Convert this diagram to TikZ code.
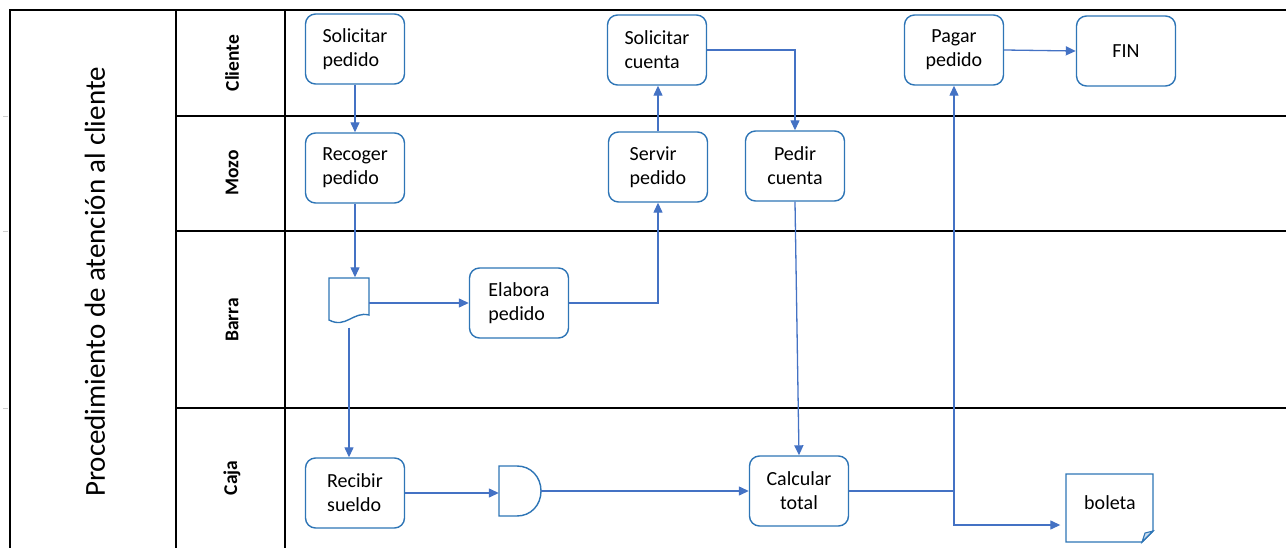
\documentclass[tikz,border=0pt]{standalone}
\usepackage{fontspec}
\setmainfont{Carlito}
\usetikzlibrary{arrows.meta}

\definecolor{boxblue}{HTML}{2E75B6}
\definecolor{flowblue}{HTML}{4472C4}

\begin{document}
\begin{tikzpicture}[x=1pt,y=-1pt,
    lane/.style={line width=2.6pt, black},
    lanename/.style={rotate=90, font=\fontsize{19.5}{22}\selectfont\bfseries},
    proc/.style={draw=boxblue, line width=1.4pt, rounded corners=10pt, fill=white,
        minimum width=99pt, minimum height=70pt, inner sep=0pt, align=left,
        font=\fontsize{20}{24}\selectfont},
    procc/.style={proc, align=center},
    symbox/.style={draw=boxblue, line width=1.4pt, fill=white},
    flow/.style={draw=flowblue, line width=1.3pt, ->},
    >={Triangle[length=10pt,width=9pt]}]
    \useasboundingbox (0,0) rectangle (1286,548);
    % Draw the swimlane grid
    \draw[lane] (10,550) -- (10,10) -- (1286,10);
    \draw[lane] (176,10) -- (176,550);
    \draw[lane] (285,10) -- (285,408);
    \draw[line width=1.4pt] (285,408) -- (285,550);
    \foreach \y in {116,231,408} {
        \draw[lane] (176,\y) -- (1286,\y);
        \draw[gray!40, line width=0.8pt] (3,\y) -- (8,\y);
    }
    % Lane names
    \node[rotate=90, font=\fontsize{29}{34}\selectfont] (titulo) at (95,282) {Procedimiento de atención al cliente};
    \node[lanename] (cliente) at (232,63) {Cliente};
    \node[lanename] (mozo) at (232,173) {Mozo};
    \node[lanename] (barra) at (232,320) {Barra};
    \node[lanename] (caja) at (232,478) {Caja};
    % Process boxes
    \node[proc] (solped) at (355,49) {Solicitar\\pedido};
    \node[proc] (recped) at (355,168) {Recoger\\pedido};
    \node[proc] (elab) at (519,303) {Elabora\\pedido};
    \node[proc] (servir) at (658,167) {Servir\\pedido};
    \node[proc] (solcta) at (657,50) {Solicitar\\cuenta};
    \node[procc] (pedir) at (795,166) {Pedir\\cuenta};
    \node[procc] (pagar) at (954,50) {Pagar\\pedido};
    \node[procc] (fin) at (1126,51) {FIN};
    \node[proc] (recibir) at (355,493) {Recibir\\sueldo};
    \node[procc] (calc) at (799,491) {Calcular\\total};
    % Document, delay and note shapes
    \draw[symbox] (329,278) -- (369,278) -- (369,315)
        .. controls (353,311) and (346,329) .. (329,320) -- cycle;
    \node[minimum width=40pt, minimum height=47pt, inner sep=0pt] (orden) at (349,301) {};
    \draw[symbox] (499,466) -- (517,466) .. controls (531,466) and (541,477) .. (541,491)
        .. controls (541,505) and (531,516) .. (517,516) -- (499,516) -- cycle;
    \node[minimum width=42pt, minimum height=50pt, inner sep=0pt] (espera) at (520,491) {};
    \draw[symbox] (1066,474) -- (1153,474) -- (1153,531) -- (1142,542) -- (1066,542) -- cycle;
    \filldraw[draw=boxblue, fill=boxblue!25, line width=1.1pt]
        (1153,531) -- (1145,533) -- (1142,542) -- cycle;
    \node[minimum width=87pt, minimum height=68pt, inner sep=0pt,
        font=\fontsize{20}{24}\selectfont] (boleta) at (1110,503) {boleta};
    % Connectors
    \draw[flow] (solped.south) -- (recped.north);
    \draw[flow] (recped.south) -- (recped.south |- orden.north);
    \draw[flow] (orden.east |- elab.west) -- (elab.west);
    \draw[flow] (elab.east) -| (servir.south);
    \draw[flow] (servir.north) -- (servir.north |- solcta.south);
    \draw[flow] (solcta.east) -| (pedir.north);
    \draw[flow] (pedir.south) -- (calc.north);
    \draw[flow, shorten <=3pt] (orden.south) -- (orden.south |- recibir.north);
    \draw[flow] (recibir.east) -- (recibir.east -| espera.west);
    \draw[flow] (espera.east) -- (calc.west);
    \draw[flow] (calc.east) -| (pagar.south);
    \coordinate (cruce) at (calc.east -| pagar.south);
    \draw[flow, shorten >=6pt] (cruce) |- ([yshift=-22pt]boleta.west);
    \draw[flow] (pagar.east) -- (fin.west);
\end{tikzpicture}
\end{document}
